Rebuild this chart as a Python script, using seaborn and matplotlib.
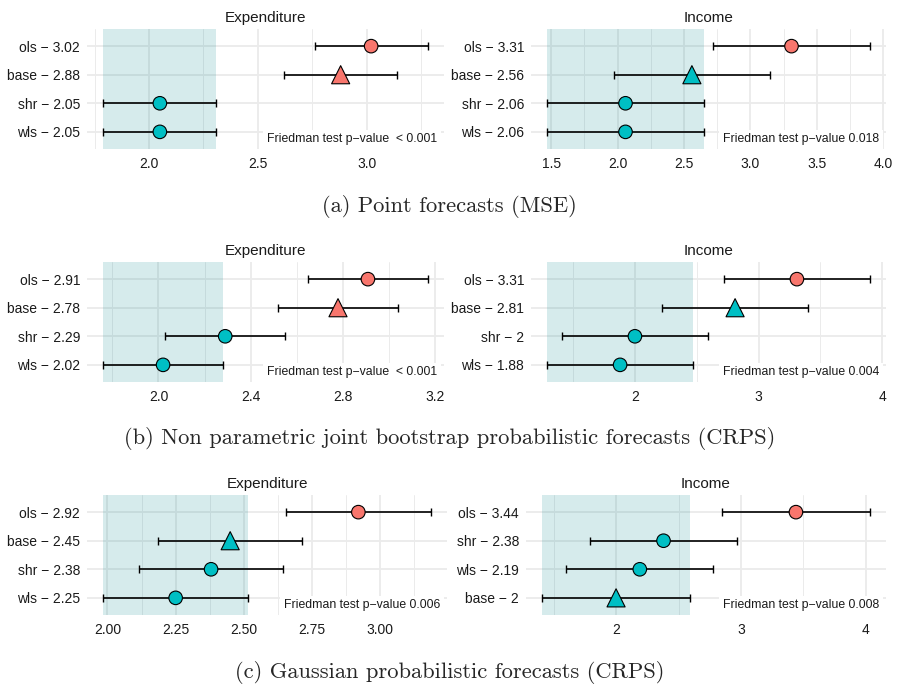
import numpy as np
import pandas as pd
import matplotlib
matplotlib.use("Agg")
import matplotlib.pyplot as plt
import seaborn as sns

# Mean ranks per method (MCB test)
methods_a_exp = ["ols", "base", "shr", "wls"]
ranks_a_exp = [3.02, 2.88, 2.05, 2.05]
methods_a_inc = ["ols", "base", "shr", "wls"]
ranks_a_inc = [3.31, 2.56, 2.06, 2.06]

methods_b_exp = ["ols", "base", "shr", "wls"]
ranks_b_exp = [2.91, 2.78, 2.29, 2.02]
methods_b_inc = ["ols", "base", "shr", "wls"]
ranks_b_inc = [3.31, 2.81, 2.0, 1.88]

methods_c_exp = ["ols", "base", "shr", "wls"]
ranks_c_exp = [2.92, 2.45, 2.38, 2.25]
methods_c_inc = ["ols", "shr", "wls", "base"]
ranks_c_inc = [3.44, 2.38, 2.19, 2.0]

# half width of the MCB intervals (critical distance / 2)
half_width = {"exp": 0.26, "inc": 0.59, "exp_c": 0.265}

pvalues = ["< 0.001", "0.018", "< 0.001", "0.004", "0.006", "0.008"]

ticks_a_exp = [2.0, 2.5, 3.0]
ticks_a_inc = [1.5, 2.0, 2.5, 3.0, 3.5, 4.0]
ticks_b_exp = [2.0, 2.4, 2.8, 3.2]
ticks_b_inc = [2, 3, 4]
ticks_c_exp = [2.0, 2.25, 2.5, 2.75, 3.0]
ticks_c_inc = [2, 3, 4]
tick_fmt = ["{:.1f}", "{:.1f}", "{:.1f}", "{:.0f}", "{:.2f}", "{:.0f}"]

captions = ["(a) Point forecasts (MSE)",
            "(b) Non parametric joint bootstrap probabilistic forecasts (CRPS)",
            "(c) Gaussian probabilistic forecasts (CRPS)"]

panels = [
    ("Expenditure", methods_a_exp, ranks_a_exp, half_width["exp"], ticks_a_exp),
    ("Income", methods_a_inc, ranks_a_inc, half_width["inc"], ticks_a_inc),
    ("Expenditure", methods_b_exp, ranks_b_exp, half_width["exp"], ticks_b_exp),
    ("Income", methods_b_inc, ranks_b_inc, half_width["inc"], ticks_b_inc),
    ("Expenditure", methods_c_exp, ranks_c_exp, half_width["exp_c"], ticks_c_exp),
    ("Income", methods_c_inc, ranks_c_inc, half_width["inc"], ticks_c_inc),
]

# panel boxes in pixels: x0, x1, y0, y1
boxes = [(87, 444, 29, 149), (531, 886, 29, 149),
         (87, 444, 262, 382), (531, 886, 262, 382),
         (87, 447, 495, 615), (526, 886, 495, 615)]
caption_y = [207, 439, 673]

sns.set_theme(style="whitegrid")
plt.rcParams['font.family'] = ['Liberation Sans', 'DejaVu Sans']

W, H = 899, 689
fig = plt.figure(figsize=(W / 100, H / 100), dpi=100)

palette = {"worse": "#F8766D", "ok": "#00BFC4"}
markers = {"circ": "o", "tri": "^"}
sizes = {"circ": 95, "tri": 170}

for i, (title, methods, ranks, hw, ticks) in enumerate(panels):
    x0, x1, y0, y1 = boxes[i]
    ax = fig.add_axes([x0 / W, 1 - y1 / H, (x1 - x0) / W, (y1 - y0) / H])

    df = pd.DataFrame({"method": methods, "rank": ranks})
    df["pos"] = np.arange(len(df))
    best = df["rank"].min()
    lo_best, hi_best = best - hw, best + hw
    df["group"] = np.where(df["rank"] - hw > hi_best, "worse", "ok")
    df["shape"] = np.where(df["method"] == "base", "tri", "circ")

    ax.axvspan(lo_best, hi_best, facecolor="#00878E", alpha=0.16, lw=0, zorder=2)
    ax.errorbar(df["rank"], df["pos"], xerr=hw, fmt="none", ecolor="black",
                elinewidth=1.2, capsize=3.2, capthick=1.0, zorder=4)
    sns.scatterplot(data=df, x="rank", y="pos", hue="group", style="shape",
                    size="shape", palette=palette, markers=markers, sizes=sizes,
                    edgecolor="black", linewidth=0.8, legend=False, ax=ax, zorder=5)

    ax.set_xticks(ticks)
    ax.set_xticklabels([tick_fmt[i].format(t) for t in ticks])
    step = ticks[1] - ticks[0]
    minor = np.arange(ticks[0] - step / 2, ticks[-1] + step, step)
    ax.set_xticks(minor, minor=True)
    ax.set_yticks(df["pos"])
    ax.set_yticklabels([f"{m} \u2212 {r:g}" for m, r in zip(df["method"], df["rank"])])

    # ggplot-like 5% expansion, set after the ticks so they don't widen it
    lo = df["rank"].min() - hw
    hi = df["rank"].max() + hw
    pad = 0.05 * (hi - lo)
    ax.set_xlim(lo - pad, hi + pad)
    ax.set_ylim(len(df) - 1 + 0.6, -0.6)

    ax.set_xlabel("")
    ax.set_ylabel("")
    for s in ax.spines.values():
        s.set_visible(False)
    ax.grid(which="major", color="#EBEBEB", lw=1.3)
    ax.grid(which="minor", color="#EBEBEB", lw=0.7)
    ax.set_axisbelow(True)
    ax.tick_params(which="both", length=0, labelsize=10, labelcolor="#1a1a1a")
    ax.tick_params(axis="x", pad=6)
    ax.tick_params(axis="y", pad=5)
    ax.set_title(title, fontsize=11, pad=5, color="#1a1a1a")

    sep = "  " if pvalues[i].startswith("<") else " "
    ax.annotate(f"Friedman test p\u2212value{sep}{pvalues[i]}", xy=(1, 0),
                xycoords="axes fraction", xytext=(-5, 2.6), textcoords="offset points",
                ha="right", va="bottom", fontsize=8.8, color="#1a1a1a", zorder=3,
                bbox=dict(boxstyle="square,pad=0.3", fc="white", ec="none"))

for cap, cy in zip(captions, caption_y):
    fig.text(0.5, 1 - cy / H, cap, family="cmr10", fontsize=16.2,
             ha="center", va="center")

fig.savefig("out.png", dpi=100)
